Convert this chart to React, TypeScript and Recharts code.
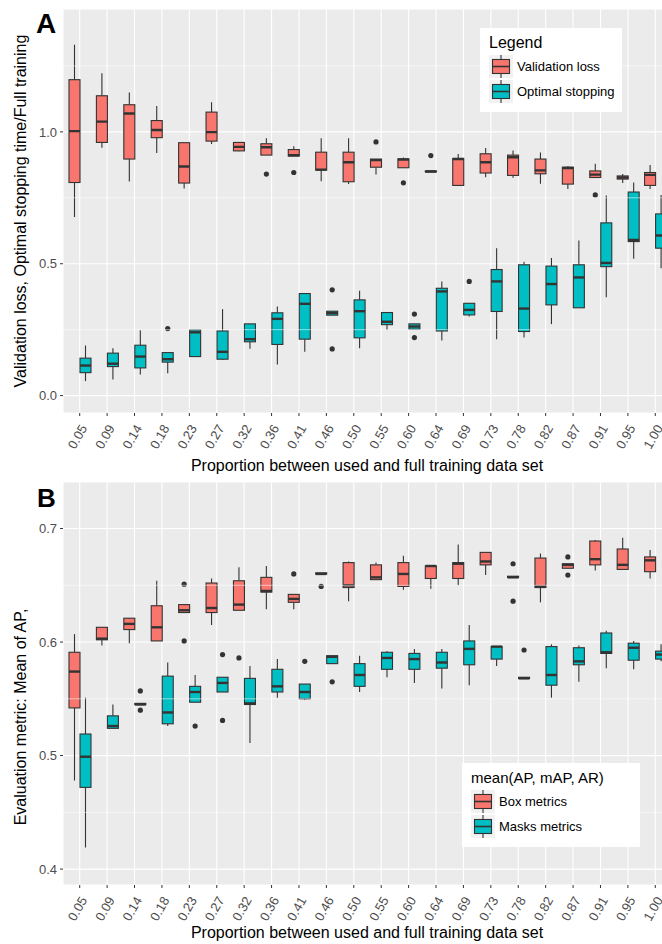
import React from 'react';
import { ComposedChart, Bar, XAxis, YAxis, CartesianGrid, ReferenceLine } from 'recharts';

const proportions = [
  '0.05', '0.09', '0.14', '0.18', '0.23', '0.27', '0.32', '0.36', '0.41', '0.46', '0.50',
  '0.55', '0.60', '0.64', '0.69', '0.73', '0.78', '0.82', '0.87', '0.91', '0.95', '1.00',
];

// each entry: [lower whisker, Q1, median, Q3, upper whisker]
const validationLoss = [
  [0.677, 0.808, 1.003, 1.198, 1.33], [0.94, 0.96, 1.039, 1.137, 1.222], [0.812, 0.897, 1.07, 1.103, 1.149],
  [0.92, 0.978, 1.007, 1.043, 1.098], [0.785, 0.806, 0.869, 0.959, 0.959], [0.954, 0.965, 0.999, 1.075, 1.112],
  [0.927, 0.928, 0.943, 0.96, 0.96], [0.912, 0.912, 0.942, 0.955, 0.976], [0.908, 0.908, 0.912, 0.933, 0.946],
  [0.813, 0.855, 0.857, 0.923, 0.976], [0.802, 0.811, 0.885, 0.923, 0.976], [0.838, 0.866, 0.893, 0.897, 0.897],
  [0.864, 0.864, 0.895, 0.898, 0.903], [0.848, 0.848, 0.85, 0.852, 0.852], [0.795, 0.797, 0.897, 0.899, 0.916],
  [0.828, 0.844, 0.885, 0.917, 0.939], [0.826, 0.835, 0.904, 0.912, 0.929], [0.803, 0.841, 0.854, 0.897, 0.922],
  [0.783, 0.802, 0.863, 0.866, 0.87], [0.827, 0.827, 0.838, 0.852, 0.879], [0.806, 0.821, 0.827, 0.833, 0.84],
  [0.783, 0.797, 0.837, 0.846, 0.874],
];
const validationLossOut = [
  [], [], [], [], [], [], [], [0.84], [0.846], [], [], [0.962], [0.807], [0.91], [], [], [], [], [], [0.761], [], [],
];

const optimalStopping = [
  [0.055, 0.087, 0.114, 0.142, 0.19], [0.061, 0.11, 0.121, 0.161, 0.18], [0.08, 0.105, 0.148, 0.191, 0.248],
  [0.085, 0.127, 0.138, 0.163, 0.163], [0.148, 0.148, 0.24, 0.249, 0.249], [0.135, 0.138, 0.166, 0.245, 0.328],
  [0.178, 0.204, 0.214, 0.272, 0.272], [0.118, 0.194, 0.291, 0.314, 0.338], [0.166, 0.214, 0.348, 0.387, 0.387],
  [0.305, 0.305, 0.313, 0.32, 0.32], [0.18, 0.219, 0.32, 0.363, 0.398], [0.249, 0.269, 0.28, 0.315, 0.315],
  [0.252, 0.252, 0.262, 0.272, 0.272], [0.209, 0.245, 0.395, 0.407, 0.433], [0.3, 0.306, 0.325, 0.35, 0.35],
  [0.214, 0.319, 0.433, 0.478, 0.559], [0.22, 0.243, 0.33, 0.496, 0.508], [0.271, 0.344, 0.423, 0.491, 0.522],
  [0.333, 0.333, 0.448, 0.496, 0.588], [0.373, 0.489, 0.503, 0.655, 0.759], [0.519, 0.584, 0.59, 0.772, 0.808],
  [0.483, 0.559, 0.607, 0.689, 0.761],
];
const optimalStoppingOut = [
  [], [], [], [0.254], [], [], [], [], [], [0.401, 0.177], [], [], [0.309, 0.22], [], [0.433], [], [], [], [], [], [], [],
];

const boxMetrics = [
  [0.478, 0.542, 0.574, 0.591, 0.607], [0.597, 0.602, 0.603, 0.613, 0.613], [0.599, 0.611, 0.616, 0.621, 0.621],
  [0.601, 0.601, 0.613, 0.632, 0.654], [0.626, 0.626, 0.628, 0.633, 0.633], [0.615, 0.626, 0.63, 0.652, 0.656],
  [0.628, 0.628, 0.633, 0.654, 0.666], [0.629, 0.644, 0.645, 0.657, 0.667], [0.629, 0.635, 0.638, 0.642, 0.642],
  [0.66, 0.66, 0.66, 0.661, 0.661], [0.636, 0.648, 0.65, 0.67, 0.671], [0.655, 0.655, 0.657, 0.668, 0.67],
  [0.646, 0.649, 0.66, 0.67, 0.676], [0.647, 0.656, 0.667, 0.667, 0.667], [0.65, 0.656, 0.669, 0.67, 0.686],
  [0.659, 0.668, 0.671, 0.679, 0.679], [0.657, 0.657, 0.657, 0.658, 0.658], [0.635, 0.648, 0.649, 0.674, 0.678],
  [0.665, 0.665, 0.668, 0.669, 0.669], [0.663, 0.668, 0.673, 0.689, 0.69], [0.664, 0.664, 0.668, 0.682, 0.692],
  [0.656, 0.662, 0.672, 0.675, 0.681],
];
const boxMetricsOut = [
  [], [], [], [], [0.651, 0.601], [], [0.586], [], [0.66], [0.649], [], [], [], [], [], [], [0.669, 0.636], [],
  [0.675, 0.659], [], [], [],
];

const masksMetrics = [
  [0.419, 0.472, 0.499, 0.519, 0.551], [0.524, 0.524, 0.526, 0.535, 0.545], [0.545, 0.545, 0.545, 0.546, 0.546],
  [0.526, 0.528, 0.538, 0.57, 0.582], [0.547, 0.547, 0.556, 0.561, 0.571], [0.556, 0.556, 0.564, 0.569, 0.569],
  [0.511, 0.545, 0.546, 0.568, 0.579], [0.551, 0.556, 0.561, 0.576, 0.585], [0.549, 0.55, 0.556, 0.563, 0.563],
  [0.581, 0.581, 0.587, 0.588, 0.588], [0.556, 0.561, 0.571, 0.581, 0.588], [0.569, 0.576, 0.586, 0.591, 0.592],
  [0.564, 0.576, 0.585, 0.59, 0.594], [0.559, 0.577, 0.582, 0.591, 0.594], [0.562, 0.58, 0.594, 0.601, 0.615],
  [0.579, 0.585, 0.596, 0.596, 0.596], [0.568, 0.568, 0.568, 0.569, 0.569], [0.551, 0.562, 0.571, 0.596, 0.598],
  [0.565, 0.58, 0.583, 0.595, 0.597], [0.577, 0.59, 0.591, 0.608, 0.61], [0.576, 0.584, 0.595, 0.599, 0.601],
  [0.583, 0.585, 0.589, 0.592, 0.598],
];
const masksMetricsOut = [
  [], [], [0.557, 0.54], [], [0.526], [0.589, 0.531], [], [], [0.583], [0.565], [], [], [], [], [], [], [0.593], [],
  [], [], [], [],
];

const RED = '#F8766D';
const TEAL = '#00BFC4';
const INK = '#333333';
const FONT = '"Liberation Sans", Arial, Helvetica, sans-serif';
const CHART_W = 690;
const PLOT_RIGHT = 672;

const buildRows = (s1, o1, s2, o2) =>
  proportions.map((p, i) => ({
    p,
    a: { stats: s1[i], out: o1[i] },
    b: { stats: s2[i], out: o2[i] },
  }));

const rowsA = buildRows(validationLoss, validationLossOut, optimalStopping, optimalStoppingOut);
const rowsB = buildRows(boxMetrics, boxMetricsOut, masksMetrics, masksMetricsOut);

// full extent of a box (whiskers + outliers) used as the bar's range
const extent = (key) => (row) => {
  const all = [...row[key].stats, ...row[key].out];
  return [Math.min(...all), Math.max(...all)];
};

const makeBox = (key, color) => (props) => {
  const { x, y, width, height, payload } = props;
  const d = payload[key];
  const all = [...d.stats, ...d.out];
  const lo = Math.min(...all);
  const hi = Math.max(...all);
  const top = Math.min(y, y + height);
  const bot = Math.max(y, y + height);
  const py = (v) => (hi === lo ? top : bot - ((bot - top) * (v - lo)) / (hi - lo));
  const [wl, q1, med, q3, wh] = d.stats;
  const cx = x + width / 2;
  return (
    <g>
      <line x1={cx} x2={cx} y1={py(wh)} y2={py(q3)} stroke={INK} strokeWidth={1.1} />
      <line x1={cx} x2={cx} y1={py(q1)} y2={py(wl)} stroke={INK} strokeWidth={1.1} />
      <rect x={x} y={py(q3)} width={width} height={Math.max(py(q1) - py(q3), 0.5)} fill={color} stroke={INK} strokeWidth={1.1} />
      <line x1={x} x2={x + width} y1={py(med)} y2={py(med)} stroke={INK} strokeWidth={2.4} />
      {d.out.map((o, j) => (
        <circle key={j} cx={cx} cy={py(o)} r={2.6} fill={INK} />
      ))}
    </g>
  );
};

const XTick = ({ x, y, payload }) => (
  <text
    transform={`translate(${x + 8},${y + 10}) rotate(-60)`}
    textAnchor="end"
    fontSize={13}
    fill="#4D4D4D"
  >
    {payload.value}
  </text>
);

const Panel = ({ rows, height, top, axisHeight, domain, ticks, minor }) => (
  <ComposedChart
    width={CHART_W}
    height={height}
    data={rows}
    margin={{ top, right: CHART_W - PLOT_RIGHT, bottom: 0, left: 0 }}
    barGap={0}
    barSize={11}
  >
    <CartesianGrid fill="#EBEBEB" stroke="#FFFFFF" strokeWidth={1.1} />
    {minor.map((m) => (
      <ReferenceLine key={m} y={m} stroke="#FFFFFF" strokeWidth={0.55} />
    ))}
    <XAxis
      dataKey="p"
      interval={0}
      padding={{ left: 3, right: 3 }}
      axisLine={false}
      tickLine={{ stroke: INK }}
      tickSize={3}
      tickMargin={2}
      height={axisHeight}
      tick={<XTick />}
    />
    <YAxis
      type="number"
      domain={domain}
      ticks={ticks}
      allowDataOverflow
      width={63}
      axisLine={false}
      tickLine={{ stroke: INK }}
      tickSize={3}
      tickMargin={3}
      tick={{ fontSize: 13, fill: '#4D4D4D' }}
      tickFormatter={(v) => v.toFixed(1)}
    />
    <Bar dataKey={extent('a')} shape={makeBox('a', RED)} isAnimationActive={false} />
    <Bar dataKey={extent('b')} shape={makeBox('b', TEAL)} isAnimationActive={false} />
  </ComposedChart>
);

const LegendKey = ({ color, top }) => (
  <svg width={24} height={23} style={{ position: 'absolute', left: 9, top }}>
    <rect x={0} y={0} width={24} height={23} fill="#F2F2F2" />
    <line x1={12} x2={12} y1={0} y2={23} stroke={INK} strokeWidth={1.1} />
    <rect x={3.5} y={4.5} width={17} height={14} fill={color} stroke={INK} strokeWidth={1.1} />
    <line x1={3.5} x2={20.5} y1={11.5} y2={11.5} stroke={INK} strokeWidth={1.6} />
  </svg>
);

const BoxLegend = ({ left, top, width, title, titleSize, labels }) => (
  <div style={{ position: 'absolute', left, top, width, height: 84, background: '#fff' }}>
    <div style={{ position: 'absolute', left: 9, top: 7, fontSize: titleSize, lineHeight: `${titleSize}px`, whiteSpace: 'nowrap' }}>
      {title}
    </div>
    <LegendKey color={RED} top={27} />
    <LegendKey color={TEAL} top={52} />
    <div style={{ position: 'absolute', left: 37, top: 31, fontSize: 13, lineHeight: '15px', whiteSpace: 'nowrap' }}>{labels[0]}</div>
    <div style={{ position: 'absolute', left: 37, top: 56, fontSize: 13, lineHeight: '15px', whiteSpace: 'nowrap' }}>{labels[1]}</div>
  </div>
);

const centered = (x, y, rotate = 0) => ({
  position: 'absolute',
  left: x,
  top: y,
  transform: `translate(-50%, -50%) rotate(${rotate}deg)`,
  whiteSpace: 'nowrap',
  fontSize: 16,
  color: '#000',
});

const App = () => (
  <div
    style={{
      position: 'absolute',
      left: 0,
      top: 0,
      width: 662,
      height: 944,
      overflow: 'hidden',
      background: '#fff',
      fontFamily: FONT,
    }}
  >
    <div style={{ position: 'absolute', left: 0, top: 0 }}>
      <Panel rows={rowsA} height={475} top={9} axisHeight={62} domain={[-0.066, 1.466]} ticks={[0, 0.5, 1]} minor={[0.25, 0.75, 1.25]} />
    </div>
    <div style={{ position: 'absolute', left: 0, top: 475 }}>
      <Panel rows={rowsB} height={469} top={7} axisHeight={59} domain={[0.386, 0.741]} ticks={[0.4, 0.5, 0.6, 0.7]} minor={[0.45, 0.55, 0.65]} />
    </div>

    <div style={{ position: 'absolute', left: 36, top: 8, fontSize: 28, fontWeight: 900, lineHeight: '32px' }}>A</div>
    <div style={{ position: 'absolute', left: 37, top: 483, fontSize: 26, fontWeight: 900, lineHeight: '30px' }}>B</div>

    <div style={centered(21, 211, -90)}>Validation loss, Optimal stopping time/Full training</div>
    <div style={centered(367, 466)}>Proportion between used and full training data set</div>
    <div style={centered(21, 717, -90)}>Evaluation metric: Mean of AP,</div>
    <div style={centered(367, 933)}>Proportion between used and full training data set</div>

    <BoxLegend left={480} top={28} width={142} title="Legend" titleSize={16} labels={['Validation loss', 'Optimal stopping']} />
    <BoxLegend left={462} top={763} width={178} title="mean(AP, mAP, AR)" titleSize={15} labels={['Box metrics', 'Masks metrics']} />
  </div>
);

export default App;
